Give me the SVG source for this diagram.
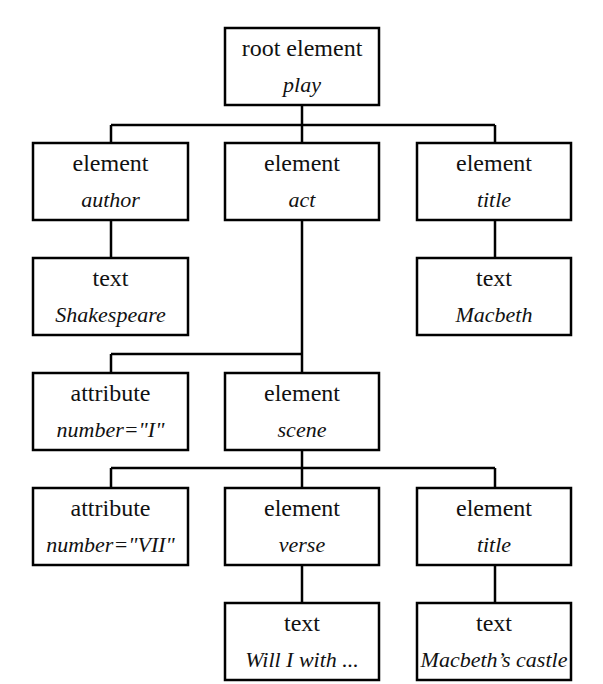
<svg xmlns="http://www.w3.org/2000/svg" width="603" height="684" viewBox="0 0 603 684">
  <style>
    .box { fill: #fff; stroke: #000; stroke-width: 2.5; }
    text { font-family: 'Liberation Serif', 'DejaVu Serif', 'Times New Roman', serif; text-anchor: middle; fill: #111; }
    .kind { font-size: 24px; }
    .name { font-size: 22px; font-style: italic; }
    #connectors path { fill: none; stroke: #000; stroke-width: 2.5; }
  </style>
  <rect width="603" height="684" fill="#fff"/>

  <g id="connectors">
    <!-- play -> author, act, title -->
    <path d="M302 105 V125 M111 125 H495 M111 125 V143 M302 125 V143 M495 125 V143"/>
    <!-- author -> Shakespeare, title -> Macbeth -->
    <path d="M111 220 V258 M495 220 V258"/>
    <!-- act -> attribute, scene -->
    <path d="M302 220 V373 M111 354 H302 M111 354 V373"/>
    <!-- scene -> attribute, verse, title -->
    <path d="M302 450 V488 M111 468 H495 M111 468 V488 M495 468 V488"/>
    <!-- verse -> text, title -> text -->
    <path d="M302 565 V603 M495 565 V603"/>
  </g>

  <g id="play">
    <rect class="box" x="225" y="28" width="154" height="77"/>
    <text class="kind" x="302" y="56">root element</text>
    <text class="name" x="302" y="92">play</text>
  </g>

  <g id="author">
    <rect class="box" x="33" y="143" width="155" height="77"/>
    <text class="kind" x="110.5" y="171">element</text>
    <text class="name" x="110.5" y="207">author</text>
  </g>
  <g id="act">
    <rect class="box" x="225" y="143" width="154" height="77"/>
    <text class="kind" x="302" y="171">element</text>
    <text class="name" x="302" y="207">act</text>
  </g>
  <g id="title">
    <rect class="box" x="417" y="143" width="154" height="77"/>
    <text class="kind" x="494" y="171">element</text>
    <text class="name" x="494" y="207">title</text>
  </g>

  <g id="text-shakespeare">
    <rect class="box" x="33" y="258" width="155" height="77"/>
    <text class="kind" x="110.5" y="286">text</text>
    <text class="name" x="110.5" y="322">Shakespeare</text>
  </g>
  <g id="text-macbeth">
    <rect class="box" x="417" y="258" width="154" height="77"/>
    <text class="kind" x="494" y="286">text</text>
    <text class="name" x="494" y="322">Macbeth</text>
  </g>

  <g id="attr-number-i">
    <rect class="box" x="33" y="373" width="155" height="77"/>
    <text class="kind" x="110.5" y="401">attribute</text>
    <text class="name" x="110.5" y="437">number="I"</text>
  </g>
  <g id="scene">
    <rect class="box" x="225" y="373" width="154" height="77"/>
    <text class="kind" x="302" y="401">element</text>
    <text class="name" x="302" y="437">scene</text>
  </g>

  <g id="attr-number-vii">
    <rect class="box" x="33" y="488" width="155" height="77"/>
    <text class="kind" x="110.5" y="516">attribute</text>
    <text class="name" x="110.5" y="552">number="VII"</text>
  </g>
  <g id="verse">
    <rect class="box" x="225" y="488" width="154" height="77"/>
    <text class="kind" x="302" y="516">element</text>
    <text class="name" x="302" y="552">verse</text>
  </g>
  <g id="scene-title">
    <rect class="box" x="417" y="488" width="154" height="77"/>
    <text class="kind" x="494" y="516">element</text>
    <text class="name" x="494" y="552">title</text>
  </g>

  <g id="text-verse">
    <rect class="box" x="225" y="603" width="154" height="77"/>
    <text class="kind" x="302" y="631">text</text>
    <text class="name" x="302" y="667">Will I with ...</text>
  </g>
  <g id="text-castle">
    <rect class="box" x="417" y="603" width="154" height="77"/>
    <text class="kind" x="494" y="631">text</text>
    <text class="name" x="494" y="667">Macbeth’s castle</text>
  </g>
</svg>
